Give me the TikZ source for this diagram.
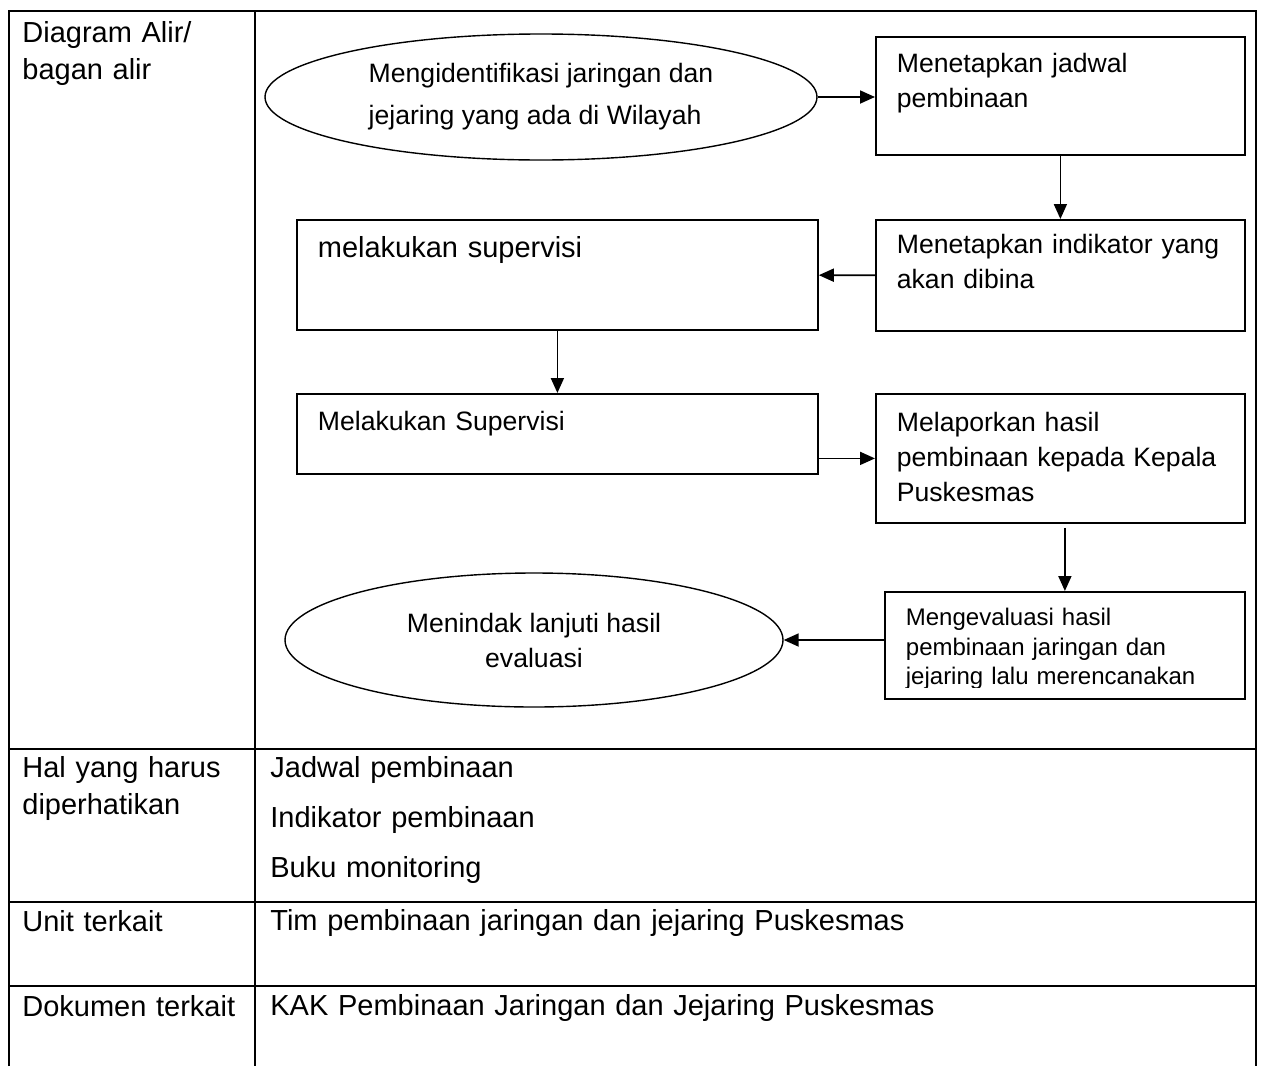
\documentclass[tikz,border=0pt]{standalone}
\usepackage{fontspec}
\setmainfont{Liberation Sans}
\usetikzlibrary{shapes.geometric, positioning, arrows.meta, calc}

\tikzset{
  stepbox/.style={draw, line width=0.9pt, anchor=north west, inner xsep=10.5pt,
    inner ysep=0pt, align=left},
  oval/.style={draw, ellipse, line width=0.7pt, inner sep=0pt},
  flow/.style={-{Triangle[length=7.5pt,width=6.5pt]}, line width=0.9pt},
  cell/.style={anchor=north west, inner sep=0pt, align=left, text width=115pt,
    text height=0pt, font=\fontsize{14.5pt}{18.5pt}\selectfont},
  widecell/.style={cell, text width=480pt},
  grid/.style={line width=1.3pt},
}

\begin{document}
\begin{tikzpicture}[x=0.5pt, y=-0.5pt]
  \useasboundingbox (0,0) rectangle (1264,1066);

  % table
  \draw[grid] (9,1066) -- (9,11) -- (1256,11) -- (1256,1066);
  \draw[grid] (255,11) -- (255,1066);
  \foreach \y in {749,902,986}
    \draw[grid] (9,\y) -- (1256,\y);

  \node[cell] (c1) at (22,42) {Diagram Alir/\\bagan alir};
  \node[cell] (c2) at (22,777) {Hal yang harus\\diperhatikan};
  \node[cell] (c3) at (22,930) {Unit terkait};
  \node[cell] (c4) at (22,1015) {Dokumen terkait};
  \node[widecell, font=\fontsize{14.5pt}{25pt}\selectfont] (c5) at (270,777)
    {Jadwal pembinaan\\Indikator pembinaan\\Buku monitoring};
  \node[widecell] (c6) at (270,930) {Tim pembinaan jaringan dan jejaring Puskesmas};
  \node[widecell] (c7) at (270,1015) {KAK Pembinaan Jaringan dan Jejaring Puskesmas};

  % flow chart
  \node[oval, minimum width=276pt, minimum height=63pt, align=left,
    font=\fontsize{13.3pt}{21pt}\selectfont] (e1) at (541,97)
    {Mengidentifikasi jaringan dan\\jejaring yang ada di Wilayah};
  \node[stepbox, text width=163.5pt, text height=18pt, text depth=41pt,
    font=\fontsize{13.3pt}{17.5pt}\selectfont] (b1) at (875,36)
    {Menetapkan jadwal\\pembinaan};
  \node[stepbox, text width=163.5pt, text height=17pt, text depth=38.5pt,
    font=\fontsize{13.3pt}{17.5pt}\selectfont] (b2) at (875,219)
    {Menetapkan indikator yang\\akan dibina};
  \node[stepbox, text width=239.5pt, text height=19pt, text depth=36pt,
    font=\fontsize{14.5pt}{17.5pt}\selectfont] (b3) at (296,219)
    {melakukan supervisi};
  \node[stepbox, text width=239.5pt, text height=18.5pt, text depth=21.5pt,
    font=\fontsize{13.3pt}{17.5pt}\selectfont] (b4) at (296,393)
    {Melakukan Supervisi};
  \node[stepbox, text width=163.5pt, text height=19pt, text depth=45.5pt,
    font=\fontsize{13.3pt}{17.5pt}\selectfont] (b5) at (875,393)
    {Melaporkan hasil\\pembinaan kepada Kepala\\Puskesmas};
  \node[stepbox, text width=159pt, text height=17pt, text depth=36.5pt] (b6)
    at (884,591) {};
  \begin{scope}
    \clip (b6.north west) rectangle ([yshift=6pt]b6.south east);
    \node[stepbox, draw=none, text width=159pt, text height=17pt,
      text depth=36.5pt, font=\fontsize{12pt}{14.75pt}\selectfont] (b6txt)
      at (b6.north west)
      {Mengevaluasi hasil\\pembinaan jaringan dan\\jejaring lalu merencanakan};
  \end{scope}
  \node[oval, minimum width=249pt, minimum height=67pt, align=center,
    font=\fontsize{13.3pt}{17.5pt}\selectfont] (e2) at (534,640)
    {Menindak lanjuti hasil\\evaluasi};

  \draw[flow] (e1.east) -- (e1.east -| b1.west);
  \draw[flow] (b1) -- (b2);
  \draw[flow] (b2) -- (b3);
  \draw[flow] (b3) -- (b4);
  \draw[flow] (b5.west -| b4.east) -- (b5.west);
  \draw[flow] ([yshift=-2pt]b5.south -| b6.north) -- (b6.north);
  \draw[flow] (b6.west |- e2.east) -- (e2.east);
\end{tikzpicture}
\end{document}
